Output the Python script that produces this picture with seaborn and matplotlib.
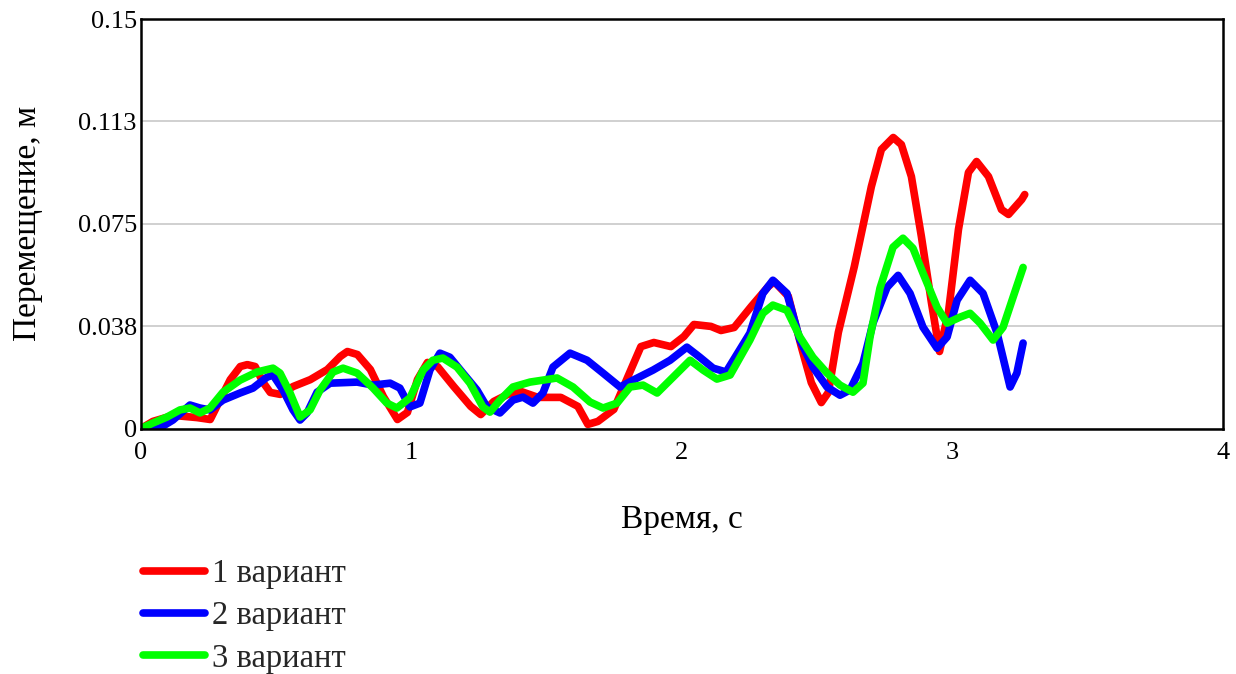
import numpy as np
import pandas as pd
import matplotlib
matplotlib.use("Agg")
import matplotlib.pyplot as plt
import seaborn as sns
from matplotlib.lines import Line2D

# ---- data ----
t1 = [0, 0.044, 0.119, 0.207, 0.256, 0.330, 0.367, 0.393, 0.422, 0.452, 0.478, 0.515, 0.563,
      0.626, 0.689, 0.737, 0.763, 0.800, 0.848, 0.896, 0.948, 0.985, 1.022, 1.059, 1.096, 1.156,
      1.219, 1.256, 1.304, 1.356, 1.404, 1.467, 1.552, 1.615, 1.652, 1.689, 1.748, 1.800, 1.848,
      1.896, 1.959, 2.007, 2.044, 2.107, 2.144, 2.193, 2.256, 2.319, 2.341, 2.393, 2.441, 2.478,
      2.515, 2.541, 2.578, 2.637, 2.700, 2.737, 2.781, 2.811, 2.848, 2.885, 2.922, 2.952, 2.985,
      3.022, 3.059, 3.089, 3.133, 3.181, 3.207, 3.256, 3.267]
y1 = [0, 0.0026, 0.0048, 0.0040, 0.0033, 0.0179, 0.0227, 0.0234, 0.0227, 0.0168, 0.0132, 0.0125, 0.0154,
      0.0179, 0.0216, 0.0264, 0.0282, 0.0271, 0.0216, 0.0117, 0.0033, 0.0059, 0.0179, 0.0242, 0.0227, 0.0154,
      0.0081, 0.0051, 0.0099, 0.0125, 0.0136, 0.0114, 0.0114, 0.0081, 0.0015, 0.0026, 0.0070, 0.0190, 0.0300,
      0.0315, 0.0300, 0.0337, 0.0381, 0.0374, 0.0359, 0.0370, 0.0447, 0.0520, 0.0538, 0.0484, 0.0300, 0.0168,
      0.0095, 0.0132, 0.0352, 0.0593, 0.0886, 0.1022, 0.1066, 0.1040, 0.0923, 0.0703, 0.0462, 0.0282, 0.0425,
      0.0729, 0.0938, 0.0978, 0.0923, 0.0802, 0.0784, 0.0839, 0.0857]

t2 = [0, 0.070, 0.118, 0.181, 0.218, 0.255, 0.303, 0.366, 0.414, 0.466, 0.488, 0.525, 0.562, 0.588,
      0.614, 0.651, 0.699, 0.799, 0.858, 0.921, 0.957, 0.994, 1.031, 1.068, 1.105, 1.142, 1.190,
      1.242, 1.279, 1.327, 1.375, 1.412, 1.449, 1.486, 1.523, 1.586, 1.649, 1.708, 1.771, 1.819,
      1.893, 1.956, 2.018, 2.066, 2.115, 2.163, 2.251, 2.299, 2.336, 2.388, 2.436, 2.484, 2.536,
      2.584, 2.621, 2.669, 2.706, 2.758, 2.799, 2.843, 2.891, 2.943, 2.980, 3.017, 3.065, 3.113,
      3.165, 3.213, 3.238, 3.261]
y2 = [0, 0.0002, 0.0031, 0.0086, 0.0075, 0.0068, 0.0104, 0.0130, 0.0148, 0.0188, 0.0196, 0.0141, 0.0068, 0.0031,
      0.0057, 0.0133, 0.0166, 0.0170, 0.0159, 0.0166, 0.0148, 0.0079, 0.0093, 0.0214, 0.0276, 0.0261, 0.0203,
      0.0141, 0.0079, 0.0057, 0.0104, 0.0115, 0.0093, 0.0130, 0.0225, 0.0276, 0.0250, 0.0203, 0.0152, 0.0177,
      0.0214, 0.0250, 0.0298, 0.0261, 0.0221, 0.0207, 0.0349, 0.0495, 0.0543, 0.0495, 0.0324, 0.0225, 0.0152,
      0.0122, 0.0141, 0.0239, 0.0386, 0.0517, 0.0561, 0.0495, 0.0371, 0.0294, 0.0335, 0.0470, 0.0543, 0.0495,
      0.0349, 0.0152, 0.0203, 0.0313]

t3 = [0, 0.044, 0.096, 0.144, 0.181, 0.218, 0.255, 0.303, 0.366, 0.429, 0.488, 0.514, 0.551, 0.588,
      0.625, 0.662, 0.710, 0.747, 0.799, 0.858, 0.909, 0.946, 0.994, 1.043, 1.079, 1.116, 1.168,
      1.216, 1.264, 1.290, 1.327, 1.375, 1.438, 1.538, 1.597, 1.660, 1.708, 1.760, 1.808, 1.856,
      1.908, 1.967, 2.030, 2.078, 2.129, 2.178, 2.251, 2.299, 2.336, 2.388, 2.436, 2.484, 2.536,
      2.584, 2.632, 2.669, 2.695, 2.732, 2.780, 2.817, 2.854, 2.891, 2.943, 2.980, 3.028, 3.065,
      3.102, 3.150, 3.187, 3.224, 3.261]
y3 = [0, 0.0020, 0.0042, 0.0068, 0.0075, 0.0057, 0.0075, 0.0133, 0.0177, 0.0207, 0.0221, 0.0203, 0.0130, 0.0042,
      0.0068, 0.0141, 0.0207, 0.0221, 0.0203, 0.0148, 0.0093, 0.0075, 0.0112, 0.0214, 0.0250, 0.0258, 0.0225,
      0.0166, 0.0079, 0.0060, 0.0104, 0.0152, 0.0170, 0.0185, 0.0152, 0.0097, 0.0075, 0.0093, 0.0152, 0.0159,
      0.0130, 0.0188, 0.0250, 0.0214, 0.0181, 0.0196, 0.0324, 0.0422, 0.0452, 0.0433, 0.0335, 0.0261, 0.0203,
      0.0159, 0.0133, 0.0166, 0.0335, 0.0514, 0.0664, 0.0697, 0.0660, 0.0569, 0.0444, 0.0386, 0.0408, 0.0422,
      0.0386, 0.0324, 0.0371, 0.0481, 0.0590]

labels = ["1 вариант", "2 вариант", "3 вариант"]
colors = ["#ff0000", "#0000ff", "#00ff00"]
yticks = [0, 0.0375, 0.075, 0.1125, 0.15]
ytick_labels = ["0", "0.038", "0.075", "0.113", "0.15"]
xticks = [0, 1, 2, 3, 4]

df = pd.concat([
    pd.DataFrame({"t": t1, "y": y1, "s": labels[0]}),
    pd.DataFrame({"t": t2, "y": y2, "s": labels[1]}),
    pd.DataFrame({"t": t3, "y": y3, "s": labels[2]}),
], ignore_index=True)

sns.set_theme(style="white")
plt.rcParams["font.family"] = ["Liberation Serif", "DejaVu Serif"]

W, H = 1236, 674
fig = plt.figure(figsize=(W / 100, H / 100), dpi=100)
ax = fig.add_axes([141 / W, 1 - 428.5 / H, (1223 - 141) / W, (428.5 - 19) / H])

sns.lineplot(data=df, x="t", y="y", hue="s", palette=colors, sort=False,
             linewidth=5.5, ax=ax, legend=False, solid_joinstyle="round",
             solid_capstyle="round")

ax.set_xlim(0, 4)
ax.set_ylim(0, 0.15)
ax.set_xticks(xticks)
ax.set_xticklabels([str(v) for v in xticks])
ax.set_yticks(yticks)
ax.set_yticklabels(ytick_labels)
ax.grid(axis="y", color="#c8c8c8", linewidth=1.2)
ax.grid(axis="x", visible=False)
for sp in ax.spines.values():
    sp.set_color("black")
    sp.set_linewidth(1.8)
ax.tick_params(axis="x", direction="in", length=6, width=1.5, colors="black",
               labelsize=19, pad=10)
ax.tick_params(axis="y", length=0, labelsize=19, pad=3, colors="black")

ax.set_xlabel("Время, с", fontsize=24, labelpad=29, color="black")
ax.set_ylabel("Перемещение, м", fontsize=24, labelpad=25, color="black")

handles = [Line2D([], [], color=c, linewidth=5.5, solid_capstyle="round") for c in colors]
fig.legend(handles, labels, loc="upper left", bbox_to_anchor=(0.116, 0.171),
           frameon=False, fontsize=23.5, handlelength=1.9, labelspacing=0.36,
           handletextpad=0.2, borderaxespad=0, borderpad=0)

fig.savefig("out.png", dpi=100)
